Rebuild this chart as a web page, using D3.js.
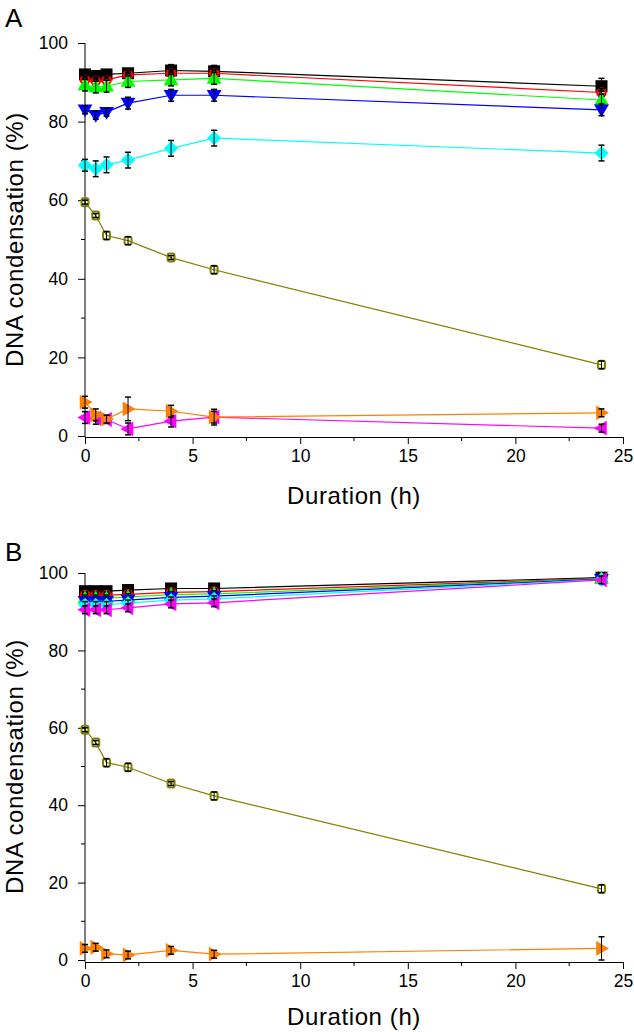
<!DOCTYPE html>
<html><head><meta charset="utf-8">
<script src="https://cdn.jsdelivr.net/npm/d3@7"></script>
<style>
html,body{margin:0;padding:0;background:#fff;}
svg{display:block;font-family:"Liberation Sans",Arial,sans-serif;}
</style></head>
<body>
<svg id="chart" width="634" height="1032"></svg>
<script>
// ---- data ----
const hours = [0, 0.5, 1, 2, 4, 6, 24];
const xTicks = [0, 5, 10, 15, 20, 25];
const yTicks = [0, 20, 40, 60, 80, 100];
const xLabel = "Duration (h)";
const yLabel = "DNA condensation (%)";
const panelLabels = ["A", "B"];

// Panel A
const aBlack   = [92, 91.6, 92, 92.3, 93, 92.8, 89];
const aRed     = [90.6, 90.3, 90.6, 91.9, 92.3, 92.3, 87.4];
const aGreen   = [89.3, 88.8, 89, 90.2, 90.6, 91, 85.5];
const aBlue    = [83, 81.6, 82.4, 84.7, 86.7, 86.7, 83];
const aCyan    = [68.9, 68, 69, 70.2, 73.2, 75.8, 72];
const aOlive   = [59.5, 56.1, 51, 49.7, 45.4, 42.3, 18.1];
const aOrange  = [8.6, 5.4, 4.3, 6.9, 6.3, 4.8, 5.9];
const aMagenta = [4.7, 4.5, 4.2, 1.8, 3.8, 4.8, 2];
const aBlackErr   = [1, 1, 1, 1, 1.5, 1.5, 2];
const aRedErr     = [1, 1, 1, 1, 1, 1, 1];
const aGreenErr   = [1.5, 1.5, 1.5, 1.5, 1.5, 1.5, 1.5];
const aBlueErr    = [1, 1, 1, 1.5, 1.5, 1.5, 1.5];
const aCyanErr    = [1.5, 2, 2, 2, 2, 2, 2];
const aOliveErr   = [0.5, 0.5, 1, 1, 0.5, 1, 1];
const aOrangeErr  = [1.5, 1.5, 1, 3, 1.5, 1.5, 1];
const aMagentaErr = [1.5, 1.5, 1, 1.5, 1.5, 2, 1];

// Panel B
const bBlack   = [95.3, 95.3, 95.3, 95.6, 96, 96, 98.8];
const bRed     = [94.3, 94.3, 94.3, 94.5, 95, 95.2, 98.6];
const bGreen   = [93.5, 93.5, 93.5, 93.8, 94.4, 94.6, 98.5];
const bBlue    = [92.7, 92.7, 92.7, 93, 93.7, 94, 98.4];
const bCyan    = [91.8, 91.8, 91.8, 92.2, 93, 93.3, 98.3];
const bMagenta = [90.5, 90.5, 90.5, 91, 92, 92.3, 98.2];
const bOlive   = [59.5, 56.2, 51, 49.8, 45.6, 42.4, 18.4];
const bOrange  = [3, 3.3, 1.6, 1.3, 2.5, 1.5, 3];
const bBlackErr   = [1, 1, 1, 1, 1, 1, 0.8];
const bRedErr     = [0.8, 0.8, 0.8, 0.8, 0.8, 0.8, 0.8];
const bGreenErr   = [0.8, 0.8, 0.8, 0.8, 0.8, 0.8, 0.8];
const bBlueErr    = [0.8, 0.8, 0.8, 0.8, 0.8, 0.8, 0.8];
const bCyanErr    = [0.8, 0.8, 0.8, 0.8, 0.8, 0.8, 0.8];
const bMagentaErr = [1, 1, 1, 1, 1, 1, 1];
const bOliveErr   = [0.5, 0.5, 1, 1, 0.5, 1, 1];
const bOrangeErr  = [1, 1, 1, 1, 1, 1, 3];

// ---- styles ----
const styles = {
  black:   {color: "#000000", shape: "square"},
  red:     {color: "#ff0000", shape: "circle"},
  green:   {color: "#00ff00", shape: "up"},
  blue:    {color: "#0000ff", shape: "down"},
  cyan:    {color: "#00ffff", shape: "diamond"},
  magenta: {color: "#ff00ff", shape: "left"},
  olive:   {color: "#808000", shape: "osquare"},
  orange:  {color: "#ff8000", shape: "right"}
};

const panels = [
  {label: panelLabels[0], top: 43, bottom: 436, axisY: 437, letterY: 27, titleY: 504,
   series: [
     ["black", aBlack, aBlackErr], ["red", aRed, aRedErr], ["green", aGreen, aGreenErr],
     ["blue", aBlue, aBlueErr], ["cyan", aCyan, aCyanErr], ["olive", aOlive, aOliveErr],
     ["magenta", aMagenta, aMagentaErr], ["orange", aOrange, aOrangeErr]
   ]},
  {label: panelLabels[1], top: 573, bottom: 960, axisY: 962, letterY: 561, titleY: 1025,
   series: [
     ["black", bBlack, bBlackErr], ["red", bRed, bRedErr], ["green", bGreen, bGreenErr],
     ["blue", bBlue, bBlueErr], ["cyan", bCyan, bCyanErr], ["magenta", bMagenta, bMagentaErr],
     ["olive", bOlive, bOliveErr], ["orange", bOrange, bOrangeErr]
   ]}
];

const svg = d3.select("#chart");
svg.append("rect").attr("width", 634).attr("height", 1032).attr("fill", "#fff");

const x = d3.scaleLinear().domain([0, 25]).range([85, 623]);

function marker(g, shape, color) {
  const tri = d3.symbol().type(d3.symbolTriangle).size(95)();
  switch (shape) {
    case "square":
      g.append("rect").attr("x", -6).attr("y", -6).attr("width", 12).attr("height", 12).attr("fill", color); break;
    case "circle":
      g.append("circle").attr("r", 4.3).attr("fill", "none").attr("stroke", color).attr("stroke-width", 2); break;
    case "osquare":
      g.append("rect").attr("x", -3.5).attr("y", -4).attr("width", 7).attr("height", 8).attr("rx", 2)
        .attr("fill", "none").attr("stroke", color).attr("stroke-width", 2); break;
    case "diamond":
      g.append("rect").attr("x", -5).attr("y", -5).attr("width", 10).attr("height", 10)
        .attr("transform", "rotate(45)").attr("fill", color); break;
    case "up":
      g.append("path").attr("d", tri).attr("transform", "translate(0,1)").attr("fill", color); break;
    case "down":
      g.append("path").attr("d", tri).attr("transform", "rotate(180) translate(0,1)").attr("fill", color); break;
    case "right":
      g.append("path").attr("d", tri).attr("transform", "rotate(90) translate(0,1)").attr("fill", color); break;
    case "left":
      g.append("path").attr("d", tri).attr("transform", "rotate(-90) translate(0,1)").attr("fill", color); break;
  }
}

panels.forEach(p => {
  const y = d3.scaleLinear().domain([0, 100]).range([p.bottom, p.top]);
  const g = svg.append("g");

  // panel letter
  g.append("text").attr("x", 5).attr("y", p.letterY).attr("font-size", 26).text(p.label);

  // y axis
  const yAxis = d3.axisLeft(y).tickValues(yTicks).tickSize(7).tickSizeOuter(0).tickPadding(10);
  const ya = g.append("g").attr("transform", "translate(85,0)").call(yAxis);
  ya.select(".domain").attr("d", `M0,${p.top}V${p.axisY}`);
  ya.selectAll("text").attr("font-size", 17.5).attr("font-family", "Liberation Sans, Arial, sans-serif").attr("fill", "#000");
  ya.selectAll("line, path").attr("stroke", "#000");
  // minor y ticks
  g.append("g").selectAll("line").data([10, 30, 50, 70, 90]).join("line")
    .attr("x1", 81).attr("x2", 85).attr("y1", d => y(d)).attr("y2", d => y(d)).attr("stroke", "#000");

  // x axis
  const xAxis = d3.axisBottom(x).tickValues(xTicks).tickSize(7).tickSizeOuter(0).tickPadding(6);
  const xa = g.append("g").attr("transform", `translate(0,${p.axisY})`).call(xAxis);
  xa.selectAll("text").attr("font-size", 17.5).attr("font-family", "Liberation Sans, Arial, sans-serif").attr("fill", "#000");
  xa.selectAll("line, path").attr("stroke", "#000");
  g.append("g").selectAll("line").data([2.5, 7.5, 12.5, 17.5, 22.5]).join("line")
    .attr("x1", d => x(d)).attr("x2", d => x(d)).attr("y1", p.axisY).attr("y2", p.axisY + 4).attr("stroke", "#000");

  // axis titles
  g.append("text").attr("x", (x(0) + x(25)) / 2).attr("y", p.titleY)
    .attr("text-anchor", "middle").attr("font-size", 24).attr("letter-spacing", 0.6).text(xLabel);
  g.append("text").attr("transform", `translate(23,${(p.top + p.bottom) / 2}) rotate(-90)`)
    .attr("text-anchor", "middle").attr("font-size", 24).attr("letter-spacing", 0.6).text(yLabel);

  // series
  const line = d3.line().x((d, i) => x(hours[i])).y(d => y(d));
  p.series.forEach(([key, vals, errs]) => {
    const st = styles[key];
    const sg = g.append("g");
    sg.append("path").attr("d", line(vals)).attr("fill", "none").attr("stroke", st.color).attr("stroke-width", 1.2);
    vals.forEach((v, i) => {
      const mg = sg.append("g").attr("transform", `translate(${x(hours[i])},${y(v)})`);
      marker(mg, st.shape, st.color);
    });
    vals.forEach((v, i) => {
      const cx = x(hours[i]);
      const y1 = y(v + errs[i]), y2 = y(v - errs[i]);
      sg.append("line").attr("x1", cx).attr("x2", cx).attr("y1", y1).attr("y2", y2).attr("stroke", "#000").attr("stroke-width", 1);
      sg.append("line").attr("x1", cx - 3).attr("x2", cx + 3).attr("y1", y1).attr("y2", y1).attr("stroke", "#000").attr("stroke-width", 1.5);
      sg.append("line").attr("x1", cx - 3).attr("x2", cx + 3).attr("y1", y2).attr("y2", y2).attr("stroke", "#000").attr("stroke-width", 1.5);
    });
  });
});
</script>
</body></html>
